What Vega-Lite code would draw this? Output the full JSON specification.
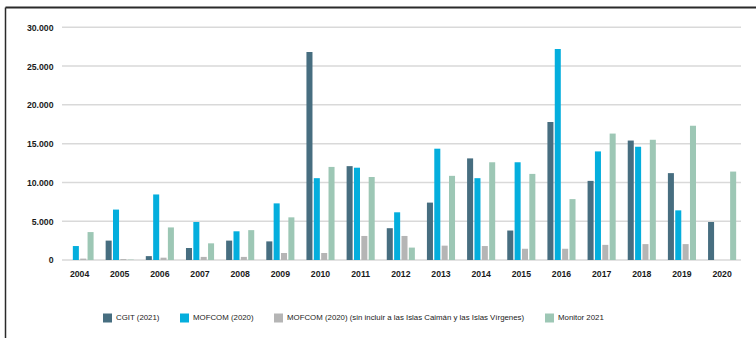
{
  "$schema": "https://vega.github.io/schema/vega-lite/v6.json",
  "width": 751,
  "height": 331,
  "padding": {"left": 5, "top": 7, "right": 0, "bottom": 0},
  "autosize": {"type": "none"},
  "background": "white",
  "config": {
    "view": {"stroke": null},
    "font": "Liberation Sans",
    "axis": {"labelFont": "Liberation Sans"},
    "legend": {"labelFont": "Liberation Sans"}
  },
  "datasets": {
    "bars": [
      {"year": "2004", "s": "MOFCOM (2020)", "v": 1800},
      {"year": "2004", "s": "MOFCOM (2020) (sin incluir a las Islas Caimán y las Islas Vírgenes)", "v": 180},
      {"year": "2004", "s": "Monitor 2021", "v": 3600},
      {"year": "2005", "s": "CGIT (2021)", "v": 2500},
      {"year": "2005", "s": "MOFCOM (2020)", "v": 6500},
      {"year": "2005", "s": "MOFCOM (2020) (sin incluir a las Islas Caimán y las Islas Vírgenes)", "v": 120},
      {"year": "2005", "s": "Monitor 2021", "v": 50},
      {"year": "2006", "s": "CGIT (2021)", "v": 500},
      {"year": "2006", "s": "MOFCOM (2020)", "v": 8450},
      {"year": "2006", "s": "MOFCOM (2020) (sin incluir a las Islas Caimán y las Islas Vírgenes)", "v": 300},
      {"year": "2006", "s": "Monitor 2021", "v": 4200},
      {"year": "2007", "s": "CGIT (2021)", "v": 1550},
      {"year": "2007", "s": "MOFCOM (2020)", "v": 4900},
      {"year": "2007", "s": "MOFCOM (2020) (sin incluir a las Islas Caimán y las Islas Vírgenes)", "v": 400},
      {"year": "2007", "s": "Monitor 2021", "v": 2150},
      {"year": "2008", "s": "CGIT (2021)", "v": 2500},
      {"year": "2008", "s": "MOFCOM (2020)", "v": 3700},
      {"year": "2008", "s": "MOFCOM (2020) (sin incluir a las Islas Caimán y las Islas Vírgenes)", "v": 400},
      {"year": "2008", "s": "Monitor 2021", "v": 3850},
      {"year": "2009", "s": "CGIT (2021)", "v": 2400},
      {"year": "2009", "s": "MOFCOM (2020)", "v": 7300},
      {"year": "2009", "s": "MOFCOM (2020) (sin incluir a las Islas Caimán y las Islas Vírgenes)", "v": 900},
      {"year": "2009", "s": "Monitor 2021", "v": 5500},
      {"year": "2010", "s": "CGIT (2021)", "v": 26800},
      {"year": "2010", "s": "MOFCOM (2020)", "v": 10550},
      {"year": "2010", "s": "MOFCOM (2020) (sin incluir a las Islas Caimán y las Islas Vírgenes)", "v": 900},
      {"year": "2010", "s": "Monitor 2021", "v": 12000},
      {"year": "2011", "s": "CGIT (2021)", "v": 12100},
      {"year": "2011", "s": "MOFCOM (2020)", "v": 11900},
      {"year": "2011", "s": "MOFCOM (2020) (sin incluir a las Islas Caimán y las Islas Vírgenes)", "v": 3100},
      {"year": "2011", "s": "Monitor 2021", "v": 10700},
      {"year": "2012", "s": "CGIT (2021)", "v": 4100},
      {"year": "2012", "s": "MOFCOM (2020)", "v": 6150},
      {"year": "2012", "s": "MOFCOM (2020) (sin incluir a las Islas Caimán y las Islas Vírgenes)", "v": 3100},
      {"year": "2012", "s": "Monitor 2021", "v": 1600},
      {"year": "2013", "s": "CGIT (2021)", "v": 7400},
      {"year": "2013", "s": "MOFCOM (2020)", "v": 14350},
      {"year": "2013", "s": "MOFCOM (2020) (sin incluir a las Islas Caimán y las Islas Vírgenes)", "v": 1850},
      {"year": "2013", "s": "Monitor 2021", "v": 10850},
      {"year": "2014", "s": "CGIT (2021)", "v": 13100},
      {"year": "2014", "s": "MOFCOM (2020)", "v": 10550},
      {"year": "2014", "s": "MOFCOM (2020) (sin incluir a las Islas Caimán y las Islas Vírgenes)", "v": 1800},
      {"year": "2014", "s": "Monitor 2021", "v": 12600},
      {"year": "2015", "s": "CGIT (2021)", "v": 3800},
      {"year": "2015", "s": "MOFCOM (2020)", "v": 12600},
      {"year": "2015", "s": "MOFCOM (2020) (sin incluir a las Islas Caimán y las Islas Vírgenes)", "v": 1450},
      {"year": "2015", "s": "Monitor 2021", "v": 11100},
      {"year": "2016", "s": "CGIT (2021)", "v": 17800},
      {"year": "2016", "s": "MOFCOM (2020)", "v": 27200},
      {"year": "2016", "s": "MOFCOM (2020) (sin incluir a las Islas Caimán y las Islas Vírgenes)", "v": 1450},
      {"year": "2016", "s": "Monitor 2021", "v": 7850},
      {"year": "2017", "s": "CGIT (2021)", "v": 10200},
      {"year": "2017", "s": "MOFCOM (2020)", "v": 14000},
      {"year": "2017", "s": "MOFCOM (2020) (sin incluir a las Islas Caimán y las Islas Vírgenes)", "v": 1950},
      {"year": "2017", "s": "Monitor 2021", "v": 16300},
      {"year": "2018", "s": "CGIT (2021)", "v": 15400},
      {"year": "2018", "s": "MOFCOM (2020)", "v": 14600},
      {"year": "2018", "s": "MOFCOM (2020) (sin incluir a las Islas Caimán y las Islas Vírgenes)", "v": 2050},
      {"year": "2018", "s": "Monitor 2021", "v": 15500},
      {"year": "2019", "s": "CGIT (2021)", "v": 11200},
      {"year": "2019", "s": "MOFCOM (2020)", "v": 6400},
      {"year": "2019", "s": "MOFCOM (2020) (sin incluir a las Islas Caimán y las Islas Vírgenes)", "v": 2050},
      {"year": "2019", "s": "Monitor 2021", "v": 17300},
      {"year": "2020", "s": "CGIT (2021)", "v": 4900},
      {"year": "2020", "s": "Monitor 2021", "v": 11400}
    ],
    "grid": [
      {"g": 0}, {"g": 5000}, {"g": 10000}, {"g": 15000}, {"g": 20000}, {"g": 25000}, {"g": 30000}
    ]
  },
  "resolve": {
    "scale": {"x": "independent"},
    "axis": {"x": "independent", "y": "independent"}
  },
  "layer": [
    {
      "data": {"name": "grid"},
      "mark": {"type": "rule", "color": "#d9d9d9", "strokeWidth": 1.5},
      "encoding": {
        "y": {
          "field": "g",
          "type": "quantitative",
          "scale": {"domain": [-10056, 32617], "nice": false, "zero": false},
          "axis": null
        },
        "x": {
          "datum": 0,
          "type": "quantitative",
          "scale": {"domain": [-0.08395, 1.02209], "nice": false, "zero": false},
          "axis": {
            "orient": "top",
            "domain": true,
            "domainColor": "#2a2a2a",
            "domainWidth": 2,
            "labels": false,
            "ticks": false,
            "grid": false,
            "title": null
          }
        },
        "x2": {"datum": 1}
      }
    },
    {
      "data": {"name": "bars"},
      "mark": {"type": "bar"},
      "encoding": {
        "x": {
          "field": "year",
          "type": "nominal",
          "sort": null,
          "scale": {"paddingInner": 0.3, "paddingOuter": 1.047, "align": 0.753},
          "axis": {
            "orient": "bottom",
            "title": null,
            "domain": false,
            "ticks": false,
            "tickSize": 0,
            "grid": false,
            "offset": -78,
            "labelAngle": 0,
            "labelPadding": 9,
            "labelFontSize": 8.7,
            "labelFontWeight": "bold",
            "labelColor": "#1a1a1a"
          }
        },
        "xOffset": {
          "field": "s",
          "type": "nominal",
          "sort": null,
          "scale": {
            "domain": ["CGIT (2021)", "MOFCOM (2020)", "MOFCOM (2020) (sin incluir a las Islas Caimán y las Islas Vírgenes)", "Monitor 2021"],
            "paddingInner": 0.18,
            "paddingOuter": 0
          }
        },
        "y": {
          "field": "v",
          "type": "quantitative",
          "scale": {"domain": [-10056, 32617], "nice": false, "zero": false},
          "axis": {
            "orient": "left",
            "title": null,
            "values": [0, 5000, 10000, 15000, 20000, 25000, 30000],
            "labelExpr": "replace(format(datum.value, ','), ',', '.')",
            "domain": true,
            "domainColor": "#2a2a2a",
            "domainWidth": 1.5,
            "ticks": false,
            "tickSize": 0,
            "grid": false,
            "labelAlign": "right",
            "labelBaseline": "middle",
            "labelPadding": -48,
            "labelFontSize": 8.7,
            "labelFontWeight": "bold",
            "labelColor": "#1a1a1a"
          }
        },
        "color": {
          "field": "s",
          "type": "nominal",
          "scale": {
            "domain": ["CGIT (2021)", "MOFCOM (2020)", "MOFCOM (2020) (sin incluir a las Islas Caimán y las Islas Vírgenes)", "Monitor 2021"],
            "range": ["#476e80", "#04aedd", "#b5b5b5", "#9dc7b5"]
          },
          "legend": {
            "title": null,
            "orient": "none",
            "direction": "horizontal",
            "legendX": 98,
            "legendY": 306.5,
            "symbolType": "square",
            "symbolSize": 81,
            "symbolStrokeWidth": 0,
            "labelFontSize": 7.85,
            "labelColor": "#222222",
            "labelOffset": 4,
            "columnPadding": 20,
            "labelLimit": 400,
            "padding": 0
          }
        }
      }
    }
  ]
}
